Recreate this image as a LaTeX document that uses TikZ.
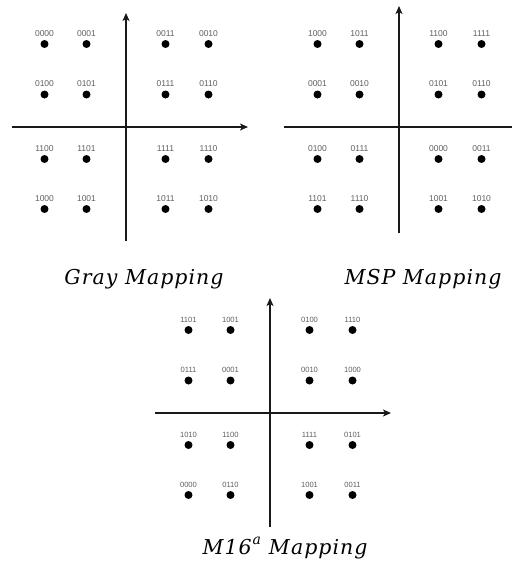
\documentclass[tikz,border=0pt]{standalone}
\usepackage{fontspec}
\newfontfamily\bitfont{Liberation Sans}
\newfontfamily\capfont[LetterSpace=5]{DejaVu Serif}
\usetikzlibrary{arrows.meta}
\definecolor{axiscol}{RGB}{25,25,25}
\definecolor{bitcol}{RGB}{95,95,95}
\tikzset{
  x=1pt, y=-1pt,
  axisline/.style={draw=axiscol, line width=1.4pt, -{Stealth[length=8pt,width=7pt,inset=2pt]}},
  dot/.style={circle, fill=black, inner sep=0pt, minimum size=8pt},
  bits/.style={font=\bitfont\fontsize{8.5}{9}\selectfont, text=bitcol, inner sep=0pt},
  smallbits/.style={font=\bitfont\fontsize{7.6}{8}\selectfont, text=bitcol, inner sep=0pt},
  caption/.style={font=\capfont\itshape\fontsize{20.5}{25}\selectfont, inner sep=0pt}
}
% #1 name prefix, #2 centre x, #3 centre y, #4 label style, #5 sixteen labels (row by row)
\newcommand\constellation[5]{%
  \foreach \lab [count=\i from 0] in {#5} {
    \pgfmathtruncatemacro\r{int(\i/4)}
    \pgfmathtruncatemacro\c{mod(\i,4)}
    \pgfmathsetmacro\dx{{-81.5,-39.5,39.5,82.5}[\c]}
    \pgfmathsetmacro\dy{{-83,-32.5,32,82}[\r]}
    \node[dot] (#1-\i) at (#2+\dx, #3+\dy) {};
    \node[#4] (#1-\i-t) at (#2+\dx, #3+\dy-10.5) {\lab};
  }%
}
\begin{document}
\begin{tikzpicture}
\useasboundingbox (0,0) rectangle (512,563);
\clip (0,0) rectangle (512,563);

% Gray mapping
\coordinate (g-l) at (12,127);   \coordinate (g-r) at (248,127);
\coordinate (g-b) at (126,241);  \coordinate (g-t) at (126,13);
\draw[axisline] (g-l) -- (g-r);
\draw[axisline] (g-b) -- (g-t);
\constellation{g}{126}{127}{bits}{0000,0001,0011,0010,0100,0101,0111,0110,1100,1101,1111,1110,1000,1001,1011,1010}
\node[caption] (g-cap) at (144,279) {Gray Mapping};

% MSP mapping
\coordinate (s-l) at (284,127);  \coordinate (s-r) at (521,127);
\coordinate (s-b) at (399,233);  \coordinate (s-t) at (399,6);
\draw[axisline] (s-l) -- (s-r);
\draw[axisline] (s-b) -- (s-t);
\constellation{s}{399}{127}{bits}{1000,1011,1100,1111,0001,0010,0101,0110,0100,0111,0000,0011,1101,1110,1001,1010}
\node[caption] (s-cap) at (423,279) {MSP Mapping};

% M16a mapping
\coordinate (m-l) at (155,413);  \coordinate (m-r) at (391,413);
\coordinate (m-b) at (270,527);  \coordinate (m-t) at (270,298);
\draw[axisline] (m-l) -- (m-r);
\draw[axisline] (m-b) -- (m-t);
\constellation{m}{270}{413}{smallbits}{1101,1001,0100,1110,0111,0001,0010,1000,1010,1100,1111,0101,0000,0110,1001,0011}
\node[caption] (m-cap) at (285,548) {M16\hspace{1pt}\raisebox{0.5em}{\fontsize{14}{16}\selectfont a}\hspace{8pt}Mapping};
\end{tikzpicture}
\end{document}
